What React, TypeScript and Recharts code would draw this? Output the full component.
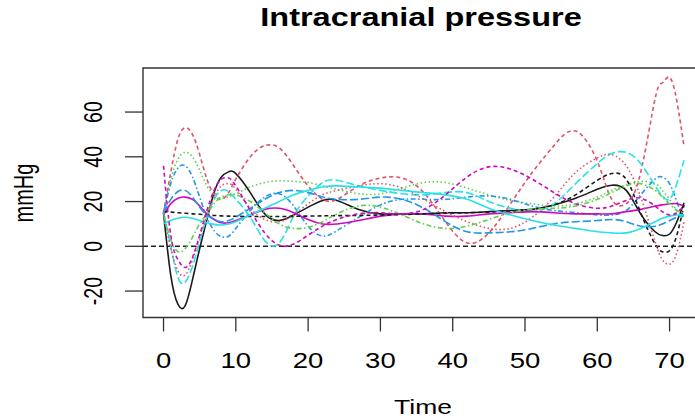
import React from 'react';
import { LineChart, Line, XAxis, YAxis, ReferenceLine, ReferenceArea } from 'recharts';

// time grid (hours) shared by all curves
const time = [0, 1, 2, 3, 4, 5, 6, 7, 8, 9, 10, 12, 14, 16, 18, 20, 22, 24, 27, 30, 33, 36, 39, 42, 45, 48, 51, 54, 57, 60, 62, 64, 66, 68, 69, 70, 71, 72];

const blackSolid = [15, -13, -26, -26.5, -15, -1, 12, 24, 31, 33.3, 32.5, 24, 14.5, 11.5, 14, 17.5, 20.5, 20.5, 16.5, 14.5, 14.5, 14.5, 15, 15, 15.5, 16, 16.5, 18.5, 21.5, 25.5, 27.3, 25, 14.5, 6.5, 4.8, 5.5, 11, 19.5];
const redDashed = [15, 33, 48, 53, 50, 41, 30, 23, 21, 24, 30, 40, 45, 44, 36, 27, 21, 21, 27, 30.5, 30.5, 24, 11, 1.5, 6, 19, 33, 45, 51.5, 38, 21, 19, 33, 66, 73, 75.5, 65, 44.5];
const greenDotted = [15, 30, 39, 42, 40, 34, 27, 23, 21.5, 22, 23.5, 26.5, 28.5, 29.3, 29, 28.5, 27, 25.5, 23.5, 23.5, 26, 28.5, 28.5, 26, 23, 20.5, 19, 18, 19, 22, 25, 27.5, 29, 28, 25, 21, 16, 12];
const blueDotDash = [15, 28, 35, 36, 31, 22, 13, 7, 4.3, 4.5, 8, 16, 22, 23.5, 18, 9, 4.6, 7, 13, 18.5, 21, 21, 21, 22, 22.5, 21, 18, 16, 15, 14, 14, 16, 23, 30, 31, 28, 20, 12];
const cyanLongDash = [15, 0, -14, -16, -9, 2, 13, 21, 25, 24.5, 21, 13, 2.5, 1.5, 13.5, 22.5, 28.5, 29.5, 27, 25, 23.5, 23, 24, 24, 20, 17, 15.5, 19, 28, 37, 41.5, 42, 37, 27, 22.5, 21, 28, 38.5];
const magentaSolid = [14, 19, 21.5, 22, 21, 18, 14.5, 12, 10.5, 10.5, 11.5, 14, 16.5, 17, 15, 12, 10, 10, 11.5, 13.5, 14.5, 14.5, 13.5, 13.5, 14.5, 15, 15.5, 15, 14.5, 14.5, 14.5, 15.5, 16.5, 18, 18.5, 19, 19, 18];
const blackDashed = [15.5, 15.3, 15, 14.8, 14.5, 14.3, 14, 13.8, 13.6, 13.5, 13.4, 13.3, 13.3, 13.3, 13.4, 13.5, 13.6, 13.7, 13.8, 14, 14.2, 14.5, 14.8, 15, 15.3, 15.8, 16.5, 18.5, 23, 29.5, 32.5, 30, 15, 1, -2.4, -2, 5, 18.5];
const redDotted = [15, -1, -11, -12.8, -6, 4, 14, 22, 27, 28, 25.5, 17, 12, 11, 14, 19, 23, 25, 27, 28, 26, 21, 15.5, 11, 8, 8, 13, 22, 33, 39.5, 41, 36, 22, 2, -6, -8, -3, 11];
const greenDotDash = [15, 3, -2.4, -1, 4, 10, 14.5, 19, 22, 23, 23, 20, 15, 10, 8, 8.5, 11, 14.5, 18, 17.5, 14, 10, 8, 9, 12, 15, 16.5, 17, 18, 21, 24, 27, 28, 25, 22, 19, 16, 15];
const blueLongDash = [15, 21, 24.5, 25, 22, 17.5, 14, 12, 11, 11.5, 13, 17, 21, 24, 25, 24, 22, 21, 21, 22, 21, 17, 11, 6.5, 6, 6.5, 8, 10, 11, 11.5, 12, 11, 9, 9, 10, 11.5, 13, 14];
const cyanSolid = [10, 11.5, 12.5, 13, 12.5, 11.5, 10.5, 9.8, 9.5, 10, 11, 14, 17, 20, 23, 25, 26.5, 27, 26.5, 26, 25, 24, 23, 21, 17, 14, 11.5, 9.5, 8, 6.5, 6, 6, 8, 11, 12.5, 13.5, 14, 14];
const magentaDashed = [36, 5, -6, -9.5, -5, 5, 16, 25, 30, 30.5, 27, 16, 6, 0.5, 1, 5, 9, 12, 14.5, 15, 14.5, 16.5, 23, 31, 35.5, 34.5, 30, 24, 19, 17, 18, 20.5, 21.5, 18, 15.5, 14, 15, 18];

const xTicks = [0, 10, 20, 30, 40, 50, 60, 70];
const yTicks = [-20, 0, 20, 40, 60];

// R default palette + lty cycle, as matplot draws them
const series = [
  { key: 'c1', values: blackSolid, color: '#1a1a1a', dash: undefined },
  { key: 'c2', values: redDashed, color: '#DF536B', dash: '4 3' },
  { key: 'c3', values: greenDotted, color: '#61D04F', dash: '1.5 2.5' },
  { key: 'c4', values: blueDotDash, color: '#2297E6', dash: '1.5 2.5 5 2.5' },
  { key: 'c5', values: cyanLongDash, color: '#28E2E5', dash: '8 3' },
  { key: 'c6', values: magentaSolid, color: '#CD0BBC', dash: undefined },
  { key: 'c7', values: blackDashed, color: '#1a1a1a', dash: '4 3' },
  { key: 'c8', values: redDotted, color: '#DF536B', dash: '1.5 2.5' },
  { key: 'c9', values: greenDotDash, color: '#61D04F', dash: '1.5 2.5 5 2.5' },
  { key: 'c10', values: blueLongDash, color: '#2297E6', dash: '8 3' },
  { key: 'c11', values: cyanSolid, color: '#28E2E5', dash: undefined },
  { key: 'c12', values: magentaDashed, color: '#CD0BBC', dash: '4 3' },
];

const data = time.map((t, i) => {
  const row: any = { t };
  series.forEach((s) => (row[s.key] = s.values[i]));
  return row;
});

const FONT = '"Liberation Sans", Arial, sans-serif';
const X_DOMAIN = [-2.84, 74.9];
const Y_DOMAIN = [-31.82, 79.69];

const XTick = (props: any) => {
  const { x, y, payload } = props;
  return (
    <text
      transform={`translate(${x},${y + 34}) scale(1.25,1)`}
      textAnchor="middle"
      fontSize={22}
      fontFamily={FONT}
      fill="#000"
    >
      {payload.value}
    </text>
  );
};

const YTick = (props: any) => {
  const { x, y, payload } = props;
  return (
    <text
      transform={`translate(${x - 21},${y}) scale(1.35,1) rotate(-90)`}
      textAnchor="middle"
      fontSize={19.5}
      fontFamily={FONT}
      fill="#000"
    >
      {payload.value}
    </text>
  );
};

export default function App() {
  return (
    <div
      style={{
        position: 'absolute',
        left: 0,
        top: 0,
        width: 695,
        height: 420,
        overflow: 'hidden',
        background: '#fff',
      }}
    >
      <LineChart width={720} height={420} data={data} margin={{ top: 68, right: 15, bottom: 0, left: 0 }}>
        <XAxis
          dataKey="t"
          type="number"
          domain={X_DOMAIN}
          allowDataOverflow
          ticks={xTicks}
          tickSize={14}
          axisLine={false}
          tickLine={{ stroke: '#333', strokeWidth: 1.3 }}
          tick={<XTick />}
          height={102.5}
          interval={0}
        />
        <YAxis
          type="number"
          domain={Y_DOMAIN}
          allowDataOverflow
          ticks={yTicks}
          tickSize={18}
          axisLine={false}
          tickLine={{ stroke: '#333', strokeWidth: 1.3 }}
          tick={<YTick />}
          width={143}
          interval={0}
        />
        <ReferenceLine y={0} stroke="#222" strokeWidth={1.4} strokeDasharray="5 3" />
        {series.map((s) => (
          <Line
            key={s.key}
            dataKey={s.key}
            type="natural"
            stroke={s.color}
            strokeWidth={1.6}
            strokeDasharray={s.dash}
            dot={false}
            activeDot={false}
            isAnimationActive={false}
          />
        ))}
        <ReferenceArea
          x1={X_DOMAIN[0]}
          x2={X_DOMAIN[1]}
          y1={Y_DOMAIN[0]}
          y2={Y_DOMAIN[1]}
          fill="none"
          stroke="#333"
          strokeWidth={1.4}
          ifOverflow="visible"
        />
      </LineChart>
      <svg width={695} height={420} style={{ position: 'absolute', left: 0, top: 0, pointerEvents: 'none' }}>
        <text
          transform="translate(421,26) scale(1.3,1)"
          textAnchor="middle"
          fontSize={25}
          fontWeight="bold"
          fontFamily={FONT}
          fill="#000"
        >
          Intracranial pressure
        </text>
        <text
          transform="translate(32.5,193) scale(1.35,1) rotate(-90)"
          textAnchor="middle"
          fontSize={20}
          fontFamily={FONT}
          fill="#000"
        >
          mmHg
        </text>
        <text
          transform="translate(423,414) scale(1.26,1)"
          textAnchor="middle"
          fontSize={21}
          fontFamily={FONT}
          fill="#000"
        >
          Time
        </text>
      </svg>
    </div>
  );
}
